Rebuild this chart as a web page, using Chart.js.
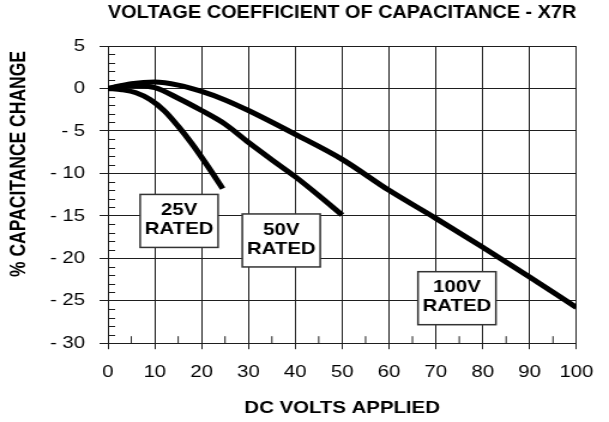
<!DOCTYPE html>
<html>
<head>
<meta charset="utf-8">
<title>Voltage coefficient of capacitance - X7R</title>
<script src="https://cdn.jsdelivr.net/npm/chart.js@4/dist/chart.umd.min.js"></script>
<style>
  html, body { margin: 0; padding: 0; background: #fff; }
</style>
</head>
<body>
<!-- the source picture is stretched sideways, so the canvas is too -->
<canvas id="vccChart" width="508" height="422" style="display:block;width:609px;height:422px"></canvas>
<script>
// ---- data ----
const X_TICKS = [0, 10, 20, 30, 40, 50, 60, 70, 80, 90, 100];
const Y_TICKS = [5, 0, -5, -10, -15, -20, -25, -30];
const Y_TICK_LABELS = ["5", "0", "- 5", "- 10", "- 15", "- 20", "- 25", "- 30"];

const volts25 = [0, 3, 6, 9, 12, 15, 18, 21, 24.5];
const change25 = [0, -0.15, -0.5, -1.3, -2.6, -4.45, -6.55, -8.9, -11.8];

const volts50 = [0, 5, 10, 15, 20, 25, 30, 35, 40, 45, 50];
const change50 = [0, 0.35, 0.1, -1.15, -2.6, -4.2, -6.35, -8.4, -10.4, -12.6, -14.9];

const volts100 = [0, 5, 10, 15, 20, 25, 30, 40, 50, 60, 70, 80, 90, 100];
const change100 = [0, 0.55, 0.75, 0.4, -0.35, -1.35, -2.6, -5.4, -8.35, -12.0, -15.3, -18.7, -22.2, -25.8];

const SERIES_NAMES = ["25V RATED", "50V RATED", "100V RATED"];

// where each series name sits, in data units
const NAME_SPOTS = [
  { x: 15.2, y: -15.6 },
  { x: 37.0, y: -17.9 },
  { x: 74.5, y: -24.7 }
];

const FONT = "'Liberation Sans', Arial, Helvetica, sans-serif";
const INK = "#000";
const GRID = "#1e1e1e";

function pairs(xs, ys) {
  return xs.map((x, i) => ({ x: x, y: ys[i] }));
}

function curve(label, xs, ys) {
  return {
    label: label,
    data: pairs(xs, ys),
    borderColor: INK,
    borderWidth: 5,
    borderCapStyle: "butt",
    pointRadius: 0,
    fill: false,
    cubicInterpolationMode: "monotone"
  };
}

/* minor ticks: 1% steps on y, 5 V steps on x, drawn inside the plot */
const minorTicks = {
  id: "minorTicks",
  beforeDatasetsDraw(chart) {
    const { ctx, chartArea: a, scales: { x, y } } = chart;
    ctx.save();
    ctx.strokeStyle = GRID;
    ctx.lineWidth = 1;
    ctx.beginPath();
    for (let v = -29; v < 5; v++) {
      if (v % 5 === 0) continue;
      const py = Math.round(y.getPixelForValue(v)) + 0.5;
      ctx.moveTo(a.left, py);
      ctx.lineTo(a.left + 6, py);
    }
    for (let v = 5; v < 100; v += 10) {
      const px = x.getPixelForValue(v);
      ctx.moveTo(px, a.bottom);
      ctx.lineTo(px, a.bottom - 7);
    }
    ctx.stroke();
    ctx.restore();
  }
};

/* boxed series names + the rotated y title */
const nameBoxes = {
  id: "nameBoxes",
  afterDatasetsDraw(chart) {
    const { ctx, scales: { x, y } } = chart;
    ctx.save();
    ctx.font = "bold 17px " + FONT;
    ctx.textAlign = "center";
    ctx.textBaseline = "middle";
    NAME_SPOTS.forEach((spot, i) => {
      const cx = x.getPixelForValue(spot.x);
      const cy = y.getPixelForValue(spot.y);
      const w = 65, h = 53;
      ctx.fillStyle = "#fff";
      ctx.fillRect(cx - w / 2, cy - h / 2, w, h);
      ctx.strokeStyle = "#333";
      ctx.lineWidth = 1.5;
      ctx.strokeRect(cx - w / 2, cy - h / 2, w, h);
      const parts = SERIES_NAMES[i].split(" ");
      ctx.fillStyle = INK;
      ctx.fillText(parts[0], cx, cy - 10.5);
      ctx.fillText(parts[1], cx, cy + 8.5);
    });

    ctx.font = "bold 17.5px " + FONT;
    ctx.translate(16.5, 164);
    ctx.rotate(-Math.PI / 2);
    ctx.fillText("% CAPACITANCE CHANGE", 0, 0);
    ctx.restore();
  }
};

new Chart(document.getElementById("vccChart"), {
  type: "line",
  data: {
    datasets: [
      curve(SERIES_NAMES[0], volts25, change25),
      curve(SERIES_NAMES[1], volts50, change50),
      curve(SERIES_NAMES[2], volts100, change100)
    ]
  },
  options: {
    responsive: false,
    animation: false,
    devicePixelRatio: 1,
    layout: { padding: { top: 0, right: 22.5, bottom: 3, left: 0 } },
    plugins: {
      legend: { display: false },
      tooltip: { enabled: false },
      title: {
        display: true,
        fullSize: false,
        text: "VOLTAGE COEFFICIENT OF CAPACITANCE - X7R",
        color: INK,
        font: { family: FONT, size: 17.5, weight: "bold" },
        padding: { top: 3, bottom: 22 }
      }
    },
    scales: {
      x: {
        type: "linear",
        min: 0,
        max: 100,
        afterBuildTicks: s => { s.ticks = X_TICKS.map(v => ({ value: v })); },
        ticks: {
          color: INK,
          font: { family: FONT, size: 17 },
          padding: 13,
          maxRotation: 0,
          autoSkip: false
        },
        grid: { color: GRID, lineWidth: 1, tickLength: 6, tickColor: GRID },
        border: { color: GRID, width: 1 },
        title: {
          display: true,
          text: "DC VOLTS APPLIED",
          color: INK,
          font: { family: FONT, size: 17, weight: "bold" },
          padding: { top: 3, bottom: 0 }
        }
      },
      y: {
        min: -30,
        max: 5,
        afterBuildTicks: s => { s.ticks = Y_TICKS.map(v => ({ value: v })); },
        afterFit: s => { s.width = 90; },
        ticks: {
          color: INK,
          font: { family: FONT, size: 17 },
          padding: 12,
          autoSkip: false,
          callback: v => Y_TICK_LABELS[Y_TICKS.indexOf(v)]
        },
        grid: { color: GRID, lineWidth: 1, tickLength: 7, tickColor: GRID },
        border: { color: GRID, width: 1 }
      }
    }
  },
  plugins: [minorTicks, nameBoxes]
});
</script>
</body>
</html>
